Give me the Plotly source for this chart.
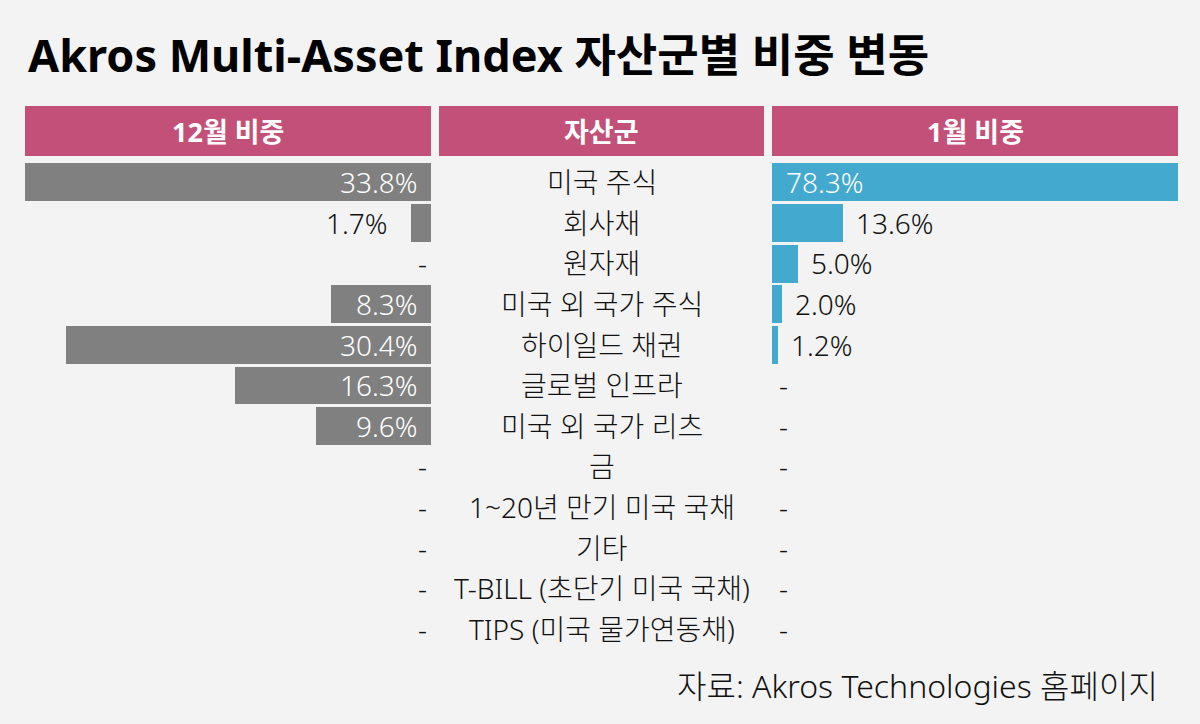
import plotly.graph_objects as go

# ---- data ----
categories = ["미국 주식", "회사채", "원자재", "미국 외 국가 주식", "하이일드 채권", "글로벌 인프라",
              "미국 외 국가 리츠", "금", "1~20년 만기 미국 국채", "기타", "T-BILL (초단기 미국 국채)",
              "TIPS (미국 물가연동채)"]
dec_weights = [33.8, 1.7, 0, 8.3, 30.4, 16.3, 9.6, 0, 0, 0, 0, 0]
jan_weights = [78.3, 13.6, 5.0, 2.0, 1.2, 0, 0, 0, 0, 0, 0, 0]
header_labels = ["12월 비중", "자산군", "1월 비중"]
title_text = "Akros Multi-Asset Index 자산군별 비중 변동"
source_text = "자료: Akros Technologies 홈페이지"

# ---- style ----
W, H = 1200, 724
BG = "#f3f3f3"
HEADER = "#c25078"
GRAY = "#808080"
BLUE = "#44a9cf"
MIXED = "Noto Sans, Noto Sans CJK KR"

def px(x):
    return x / W

def py(y):
    return 1 - y / H

left_dom = [px(25), px(431)]
mid_dom = [px(439), px(764)]
right_dom = [px(772), px(1178)]
y_dom = [py(649.3), py(161.7)]

rows = list(range(len(categories)))
left_max = max(dec_weights)
right_max = max(jan_weights)

fig = go.Figure()
fig.add_trace(go.Bar(
    x=dec_weights, y=rows, orientation="h", marker=dict(color=GRAY, line=dict(width=0)),
    width=0.934, xaxis="x", yaxis="y", hoverinfo="skip", showlegend=False))
fig.add_trace(go.Bar(
    x=jan_weights, y=rows, orientation="h", marker=dict(color=BLUE, line=dict(width=0)),
    width=0.934, xaxis="x2", yaxis="y", hoverinfo="skip", showlegend=False))

annotations = []
val_font = dict(family=MIXED, size=28, weight=300)

# left value labels
for i, v in enumerate(dec_weights):
    if v == 0:
        annotations.append(dict(x=0, y=i, xref="x", yref="y", text="-", showarrow=False,
                                xanchor="center", xshift=-9, font=dict(val_font, color="#111")))
    elif v / left_max > 0.2:
        annotations.append(dict(x=0, y=i, xref="x", yref="y", text=f"{v:.1f}%", showarrow=False,
                                xanchor="right", xshift=-11, font=dict(val_font, color="white")))
    else:
        annotations.append(dict(x=v, y=i, xref="x", yref="y", text=f"{v:.1f}%", showarrow=False,
                                xanchor="right", xshift=-21, font=dict(val_font, color="#111")))

# right value labels
for i, v in enumerate(jan_weights):
    if v == 0:
        annotations.append(dict(x=0, y=i, xref="x2", yref="y", text="-", showarrow=False,
                                xanchor="center", xshift=11, font=dict(val_font, color="#111")))
    elif v / right_max > 0.2:
        annotations.append(dict(x=0, y=i, xref="x2", yref="y", text=f"{v:.1f}%", showarrow=False,
                                xanchor="left", xshift=12, font=dict(val_font, color="white")))
    else:
        annotations.append(dict(x=v, y=i, xref="x2", yref="y", text=f"{v:.1f}%", showarrow=False,
                                xanchor="left", xshift=11, font=dict(val_font, color="#111")))

# category labels
for i, c in enumerate(categories):
    annotations.append(dict(x=(mid_dom[0] + mid_dom[1]) / 2, y=i, xref="paper", yref="y", text=c,
                            showarrow=False, xanchor="center",
                            font=dict(family=MIXED, size=28, weight=300, color="#111")))

# headers
shapes = []
for lab, dom in zip(header_labels, [left_dom, mid_dom, right_dom]):
    shapes.append(dict(type="rect", xref="paper", yref="paper", x0=dom[0], x1=dom[1],
                       y0=py(156), y1=py(106), fillcolor=HEADER, line=dict(width=0), layer="below"))
    annotations.append(dict(x=(dom[0] + dom[1]) / 2, y=py(131), xref="paper", yref="paper", text=lab,
                            showarrow=False, xanchor="center", yanchor="middle",
                            font=dict(family=MIXED, size=27, weight=700, color="white")))

# title & source
annotations.append(dict(x=px(26), y=py(55), xref="paper", yref="paper", text=title_text,
                        showarrow=False, xanchor="left", yanchor="middle",
                        font=dict(family=MIXED, size=45, weight=700, color="#000")))
annotations.append(dict(x=px(1160), y=py(685), xref="paper", yref="paper", text=source_text,
                        showarrow=False, xanchor="right", yanchor="middle",
                        font=dict(family=MIXED, size=32, weight=300, color="#111")))

fig.update_layout(
    width=W, height=H,
    margin=dict(l=0, r=0, t=0, b=0),
    paper_bgcolor=BG, plot_bgcolor="rgba(0,0,0,0)",
    xaxis=dict(domain=left_dom, range=[left_max, 0], visible=False, fixedrange=True),
    xaxis2=dict(domain=right_dom, range=[0, right_max], visible=False, anchor="y", fixedrange=True),
    yaxis=dict(domain=y_dom, range=[len(categories) - 0.5, -0.5], visible=False, fixedrange=True),
    bargap=0, showlegend=False,
    annotations=annotations, shapes=shapes,
)

fig.write_html("out.html", config={"displayModeBar": False},
               post_script="document.body.style.margin='0';document.body.style.background='%s';" % BG)
